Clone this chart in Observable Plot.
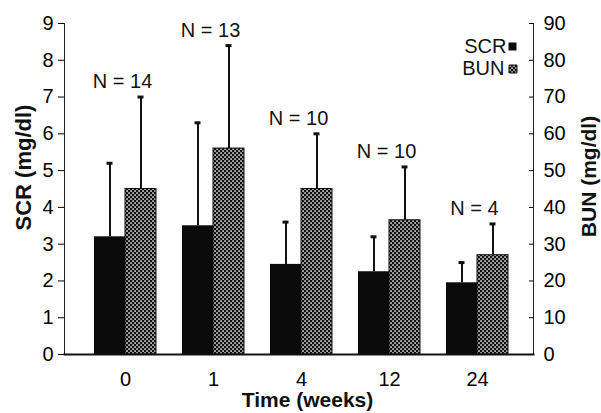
<!DOCTYPE html>
<html>
<head>
<meta charset="utf-8">
<script src="https://cdn.jsdelivr.net/npm/d3@7"></script>
<script src="https://cdn.jsdelivr.net/npm/@observablehq/plot@0.6"></script>
<style>
  html, body { margin: 0; padding: 0; background: #fff; }
  svg { font-family: "Liberation Sans", Arial, Helvetica, sans-serif; }
</style>
</head>
<body>
<div id="chart"></div>
<script>
// ---- data ----
const times = ["0", "1", "4", "12", "24"];
const nCounts = [14, 13, 10, 10, 4];
const scrMean = [3.2, 3.5, 2.45, 2.25, 1.95];   // mg/dl
const scrSD   = [2.0, 2.8, 1.15, 0.95, 0.55];
const bunMean = [45, 56, 45, 36.5, 27];          // mg/dl
const bunSD   = [25, 28, 15, 14.5, 8.5];
const leftTicks = [0, 1, 2, 3, 4, 5, 6, 7, 8, 9];
const rightTicks = [0, 10, 20, 30, 40, 50, 60, 70, 80, 90];
const legendLabels = ["SCR", "BUN"];
const BUN_PER_SCR = 10; // right axis = left axis x 10

const rows = times.map((t, i) => ({
  time: t, n: nCounts[i],
  scr: scrMean[i], scrTop: scrMean[i] + scrSD[i],
  bun: bunMean[i] / BUN_PER_SCR, bunTop: (bunMean[i] + bunSD[i]) / BUN_PER_SCR
}));

const FONT = 20;
const pat = "url(#bunPattern)";

const chart = Plot.plot({
  width: 601,
  height: 413,
  marginLeft: 64,
  marginRight: 68,
  marginTop: 23,
  marginBottom: 59,
  x: { type: "band", domain: times, paddingInner: 0.3, paddingOuter: 0.3, align: 0.55 },
  y: { domain: [0, 9] },
  marks: [
    // error bars
    Plot.ruleX(rows, { x: "time", y1: "scr", y2: "scrTop", dx: -15.5, strokeWidth: 2, stroke: "#111" }),
    Plot.ruleX(rows, { x: "time", y1: "bun", y2: "bunTop", dx: 15.5, strokeWidth: 2, stroke: "#111" }),
    Plot.tickY(rows, { x: "time", y: "scrTop", insetLeft: 12.5, insetRight: 43.5, strokeWidth: 3, stroke: "#111" }),
    Plot.tickY(rows, { x: "time", y: "bunTop", insetLeft: 43.5, insetRight: 12.5, strokeWidth: 3, stroke: "#111" }),
    // bars
    Plot.barY(rows, { x: "time", y: "scr", insetLeft: 0, insetRight: 31, fill: "#0a0a0a" }),
    Plot.barY(rows, { x: "time", y: "bun", insetLeft: 31, insetRight: 0, fill: pat, stroke: "#111", strokeWidth: 1 }),
    // N labels
    Plot.text(rows, { x: "time", y: "bunTop", text: d => `N = ${d.n}`, dy: -15, dx: -3, fontSize: FONT, fill: "#111" }),
    // axes
    Plot.axisY({ ticks: leftTicks, tickSize: 6, tickPadding: 5, fontSize: FONT, label: null }),
    Plot.axisY({ anchor: "right", ticks: leftTicks, tickFormat: d => rightTicks[leftTicks.indexOf(d)], tickSize: -5, tickPadding: 15, fontSize: FONT, label: null }),
    Plot.axisX({ tickSize: 0, tickPadding: 17, fontSize: FONT, label: null }),
    Plot.frame({ anchor: "left", stroke: "#222", strokeWidth: 1 }),
    Plot.frame({ anchor: "right", stroke: "#222", strokeWidth: 1 }),
    Plot.frame({ anchor: "bottom", stroke: "#111", strokeWidth: 2 }),
    // axis titles
    Plot.text(["SCR (mg/dl)"], { text: d => d, frameAnchor: "left", textAnchor: "middle", lineAnchor: "middle", dx: -41, dy: -21.5, rotate: -90, fontSize: 22, fontWeight: "bold", fill: "#111" }),
    Plot.text(["BUN (mg/dl)"], { text: d => d, frameAnchor: "right", textAnchor: "middle", lineAnchor: "middle", dx: 56, dy: -12.5, rotate: -90, fontSize: 21, fontWeight: "bold", fill: "#111" }),
    Plot.text(["Time (weeks)"], { text: d => d, frameAnchor: "bottom", textAnchor: "middle", lineAnchor: "middle", dx: 8.5, dy: 46, fontSize: 21, fontWeight: "bold", fill: "#111" }),
    // legend
    Plot.text([legendLabels[0]], { text: d => d, frameAnchor: "top-right", textAnchor: "end", lineAnchor: "middle", dx: -27, dy: 23, fontSize: FONT, fill: "#111" }),
    Plot.text([legendLabels[1]], { text: d => d, frameAnchor: "top-right", textAnchor: "end", lineAnchor: "middle", dx: -29, dy: 45.5, fontSize: FONT, fill: "#111" }),
    Plot.dot([legendLabels[0]], { frameAnchor: "top-right", dx: -21, dy: 23, symbol: "square", r: 4.5, fill: "#0a0a0a", stroke: null }),
    Plot.dot([legendLabels[1]], { frameAnchor: "top-right", dx: -20.5, dy: 45.5, symbol: "square", r: 4.5, fill: pat, stroke: "#111", strokeWidth: 1 })
  ]
});

// pattern for the BUN fill
const defs = d3.select(chart).insert("defs", ":first-child");
const p = defs.append("pattern")
  .attr("id", "bunPattern")
  .attr("patternUnits", "userSpaceOnUse")
  .attr("width", 4).attr("height", 4);
p.append("rect").attr("width", 4).attr("height", 4).attr("fill", "#111");
p.append("rect").attr("x", 0.3).attr("y", 0.3).attr("width", 1.5).attr("height", 1.5).attr("fill", "#fff");
p.append("rect").attr("x", 2.3).attr("y", 2.3).attr("width", 1.5).attr("height", 1.5).attr("fill", "#fff");

document.getElementById("chart").appendChild(chart);
</script>
</body>
</html>
